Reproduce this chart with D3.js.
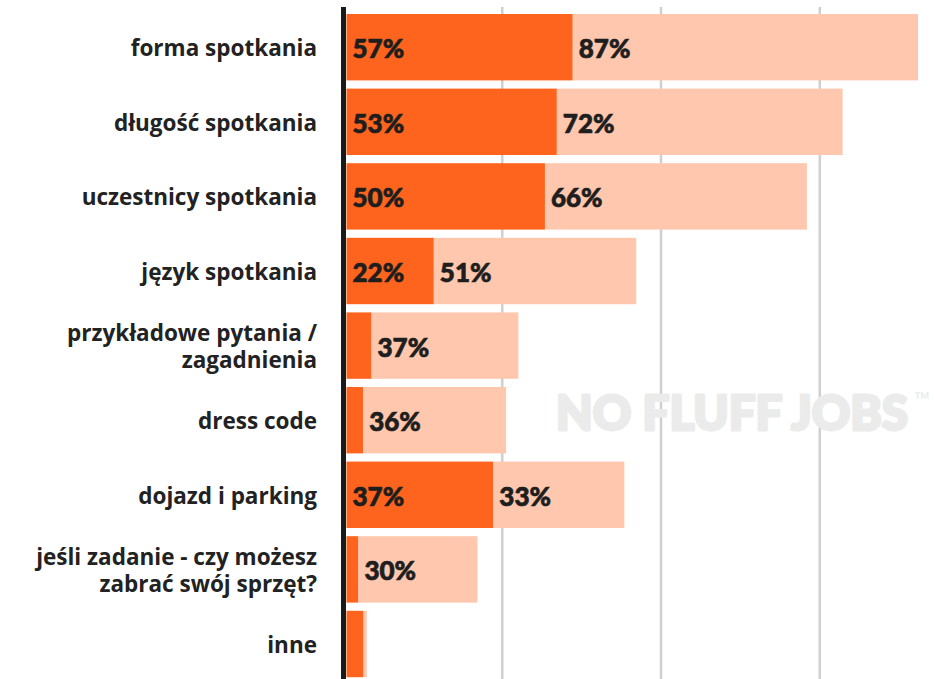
<!DOCTYPE html>
<html>
<head>
<meta charset="utf-8">
<script src="https://cdn.jsdelivr.net/npm/d3@7"></script>
<style>
  html, body { margin: 0; padding: 0; background: #ffffff; }
  svg { display: block; }
</style>
</head>
<body>
<svg id="chart" width="934" height="679"></svg>
<script>
// Topics asked about before a job interview (two stacked answer groups, in %)
const categories = [
  "forma spotkania",
  "długość spotkania",
  "uczestnicy spotkania",
  "język spotkania",
  "przykładowe pytania /\nzagadnienia",
  "dress code",
  "dojazd i parking",
  "jeśli zadanie - czy możesz\nzabrać swój sprzęt?",
  "inne"
];
const firstShare  = [57, 53, 50, 22, 6.3, 4.2, 37, 3, 4.3];
const secondShare = [87, 72, 66, 51, 37, 36, 33, 30, 0.8];
const gridTicks = [40, 80, 120];
const watermark = "NO FLUFF JOBS";

const W = 934, H = 679;
const axisX = 343.5, axisW = 5;
const svg = d3.select("#chart");

const x = d3.scaleLinear().domain([0, 144]).range([axisX, axisX + 144 * 3.969]);
const y = d3.scaleBand().domain(categories).range([9.9, 681.3])
  .paddingInner(0.11).paddingOuter(0.055);

// bars start at the right edge of the axis line
const barStart = axisW / 2 + 0.5;

// gridlines
svg.append("g").selectAll("line").data(gridTicks).join("line")
  .attr("x1", d => x(d)).attr("x2", d => x(d))
  .attr("y1", 7).attr("y2", H)
  .attr("stroke", "#cfcfcf").attr("stroke-width", 2.5);

// watermark, sized to span its slot
const wm = svg.append("g").attr("fill", "#ebebeb");
const wmText = wm.append("text")
  .attr("x", 556).attr("y", 430)
  .style("font-family", "Lato, sans-serif").style("font-weight", 900)
  .style("font-size", "50px")
  .attr("stroke", "#ebebeb").attr("stroke-width", 3).attr("stroke-linejoin", "round")
  .text(watermark);
const natural = wmText.node().getComputedTextLength();
wmText.style("font-size", (50 * 352 / natural) + "px");
wm.append("text")
  .attr("x", 915).attr("y", 399)
  .style("font-family", "Lato, sans-serif").style("font-weight", 900)
  .style("font-size", "9px")
  .text("TM");

const rows = categories.map((c, i) => ({ c, a: firstShare[i], b: secondShare[i] }));

const g = svg.append("g");
// first segment
g.selectAll("rect.a").data(rows).join("rect").attr("class", "a")
  .attr("x", x(0) + barStart)
  .attr("y", d => y(d.c))
  .attr("width", d => x(d.a) - x(0))
  .attr("height", y.bandwidth())
  .attr("fill", "#fe641d");
// second segment stacked after the first
g.selectAll("rect.b").data(rows).join("rect").attr("class", "b")
  .attr("x", d => x(d.a) + barStart)
  .attr("y", d => y(d.c))
  .attr("width", d => x(d.b) - x(0))
  .attr("height", y.bandwidth())
  .attr("fill", "#ffc7ad");

const valueStyle = s => s
  .style("font-family", "Lato, sans-serif").style("font-weight", 900)
  .style("font-size", "26px").attr("fill", "#1e1e1e")
  .attr("stroke", "#1e1e1e").attr("stroke-width", 0.7)
  .attr("dominant-baseline", "central");

valueStyle(g.selectAll("text.a").data(rows.filter(d => d.a >= 10)).join("text").attr("class", "a")
  .attr("x", x(0) + barStart + 6)
  .attr("y", d => y(d.c) + y.bandwidth() / 2 + 1)
  .text(d => d.a + "%"));

valueStyle(g.selectAll("text.b").data(rows.filter(d => d.b >= 10)).join("text").attr("class", "b")
  .attr("x", d => x(d.a) + barStart + 6)
  .attr("y", d => y(d.c) + y.bandwidth() / 2 + 1)
  .text(d => d.b + "%"));

// axis line
svg.append("line")
  .attr("x1", axisX).attr("x2", axisX)
  .attr("y1", 7).attr("y2", H)
  .attr("stroke", "#1a1a1a").attr("stroke-width", axisW);

// category labels
const lineH = 26.5;
const lab = svg.append("g").selectAll("text").data(categories).join("text")
  .attr("text-anchor", "end")
  .style("font-family", "'Open Sans', sans-serif").style("font-weight", 700)
  .style("font-size", "22.5px").attr("fill", "#222222")
  .attr("dominant-baseline", "central");
lab.each(function (d) {
  const lines = d.split("\n");
  const cy = y(d) + y.bandwidth() / 2;
  d3.select(this).selectAll("tspan").data(lines).join("tspan")
    .attr("x", 317)
    .attr("y", (l, i) => cy + (i - (lines.length - 1) / 2) * lineH)
    .text(l => l);
});
</script>
</body>
</html>
